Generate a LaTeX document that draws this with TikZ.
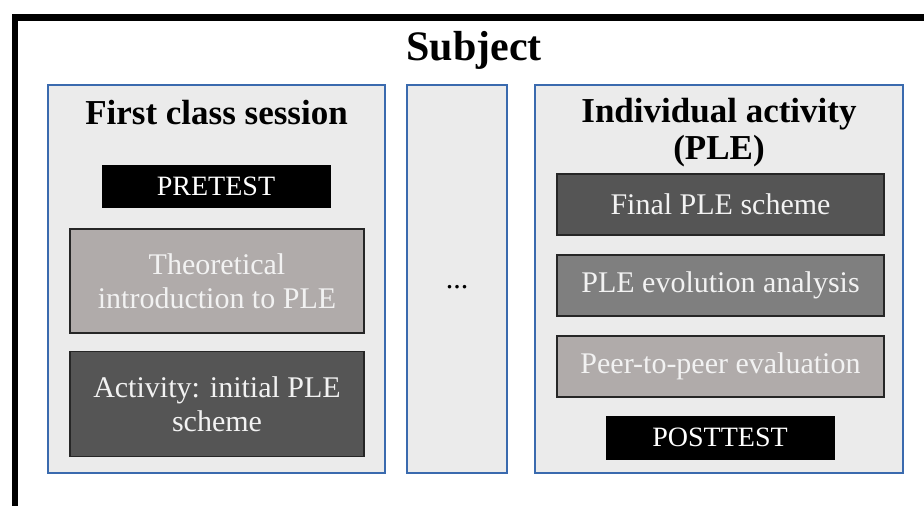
\documentclass[tikz,border=0pt]{standalone}
\usepackage{fontspec}
\setmainfont{Liberation Serif}
\definecolor{panelfill}{HTML}{EBEBEB}
\definecolor{panelblue}{HTML}{3A6AAE}
\definecolor{lightbox}{HTML}{B0ABAA}
\definecolor{midbox}{HTML}{7F7F7F}
\definecolor{darkbox}{HTML}{555555}
\definecolor{textlight}{HTML}{F2F2F2}
\tikzset{
  panel/.style={draw=panelblue, line width=1.5pt, fill=panelfill, inner sep=0pt},
  inbox/.style={draw=black!85, line width=1.3pt, text=textlight, align=center, inner sep=0pt, font=\fontsize{30}{34}\selectfont},
  testbox/.style={draw=black, fill=black, text=white, inner sep=0pt, font=\fontsize{28}{32}\selectfont},
  ttl/.style={font=\bfseries\fontsize{35}{37}\selectfont, align=center}
}
\begin{document}
\begin{tikzpicture}[x=1pt,y=-1pt]
\useasboundingbox (0,0) rectangle (924,506);
\begin{scope}
\clip (0,0) rectangle (924,506);
\draw[line width=6.5pt] (15,17.5) rectangle (940,530);
\end{scope}
\node[font=\bfseries\fontsize{42}{46}\selectfont] (subject) at (474,50) {Subject};
% panels
\node[panel, minimum width=337pt, minimum height=388pt] (lp) at (216.5,279) {};
\node[panel, minimum width=100pt, minimum height=388pt] (mp) at (457,279) {};
\node[panel, minimum width=368pt, minimum height=388pt] (rp) at (719,279) {};
% left
\node[ttl] (first) at (216.5,113) {First class session};
\node[testbox, minimum width=228pt, minimum height=42pt] (pre) at (216,186) {PRETEST};
\node[inbox, fill=lightbox, minimum width=294pt, minimum height=104pt] (theo) at (217,281) {Theoretical\\introduction to PLE};
\node[inbox, fill=darkbox, minimum width=294pt, minimum height=105pt] (act) at (217,404) {Activity: initial PLE\\scheme};
% middle
\node[font=\fontsize{30}{34}\selectfont] (dots) at (457,287) {...};
% right
\node[ttl] (ind) at (719,133) {Individual activity\\(PLE)};
\node[inbox, fill=darkbox, minimum width=327pt, minimum height=61pt] (fin) at (720.5,204.5) {Final PLE scheme};
\node[inbox, fill=midbox, minimum width=327pt, minimum height=61pt] (evo) at (720.5,285.5) {PLE evolution analysis};
\node[inbox, fill=lightbox, minimum width=327pt, minimum height=61pt] (peer) at (720.5,366.5) {Peer-to-peer evaluation};
\node[testbox, minimum width=228pt, minimum height=43pt] (post) at (720,437.5) {POSTTEST};
\end{tikzpicture}
\end{document}
